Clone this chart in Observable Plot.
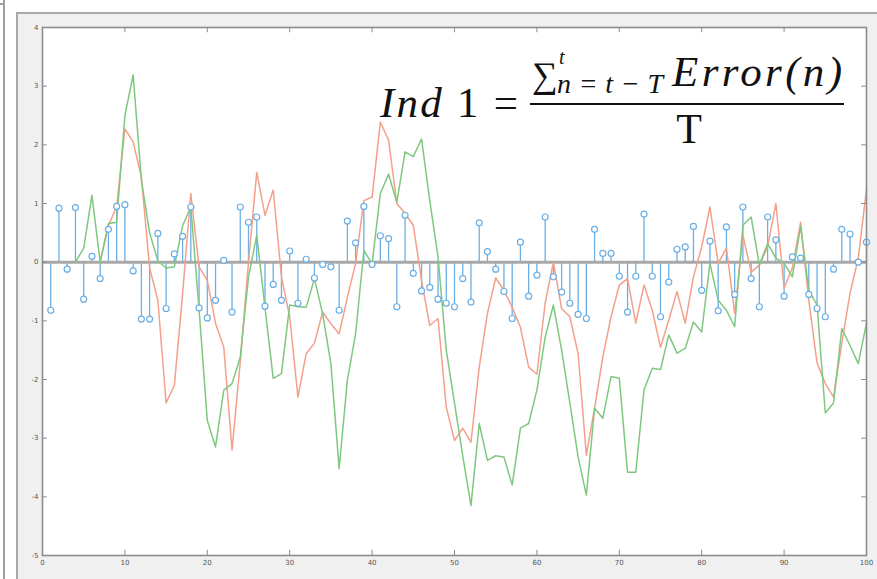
<!DOCTYPE html>
<html>
<head>
<meta charset="utf-8">
<script src="https://cdn.jsdelivr.net/npm/d3@7"></script>
<script src="https://cdn.jsdelivr.net/npm/@observablehq/plot@0.6"></script>
<style>
  html, body { margin: 0; padding: 0; background: #ffffff; }
  #wrap { position: relative; width: 877px; height: 579px; overflow: hidden; }
  #fig { position: absolute; left: 16px; top: 12px; width: 861px; height: 567px; background: #f0f0f0; border-left: 2px solid #a9a9a9; border-top: 2px solid #a9a9a9; box-sizing: border-box; }
  #edge { position: absolute; left: 3px; top: 4px; width: 2px; height: 575px; background: #a0a0a0; }
  #corner { position: absolute; left: 0px; top: 0px; width: 5px; height: 5px; border-right: 2px solid #a0a0a0; border-bottom: 2px solid #a0a0a0; box-sizing: border-box; }
  #chart { position: absolute; left: 0; top: 0; }
</style>
</head>
<body>
<div id="wrap">
  <div id="edge"></div>
  <div id="corner"></div>
  <div id="fig"></div>
  <div id="chart"></div>
</div>
<script>
// ---- data ----
const xTicks = [0, 10, 20, 30, 40, 50, 60, 70, 80, 90, 100];
const yTicks = [-5, -4, -3, -2, -1, 0, 1, 2, 3, 4];

// error stems, t = 1..100
const errorValues = [
  -0.82, 0.92, -0.12, 0.93, -0.63, 0.10, -0.28, 0.56, 0.95, 0.98,
  -0.15, -0.97, -0.97, 0.49, -0.79, 0.14, 0.44, 0.94, -0.78, -0.95,
  -0.65, 0.03, -0.85, 0.94, 0.68, 0.77, -0.75, -0.38, -0.65, 0.19,
  -0.70, 0.05, -0.27, -0.04, -0.08, -0.82, 0.70, 0.33, 0.95, -0.04,
  0.45, 0.40, -0.76, 0.80, -0.19, -0.49, -0.43, -0.63, -0.70, -0.76,
  -0.28, -0.68, 0.67, 0.18, -0.12, -0.50, -0.96, 0.34, -0.58, -0.22,
  0.77, -0.25, -0.51, -0.70, -0.89, -0.96, 0.56, 0.15, 0.15, -0.24,
  -0.85, -0.24, 0.82, -0.24, -0.93, -0.34, 0.22, 0.26, 0.61, -0.48,
  0.36, -0.83, 0.60, -0.55, 0.94, -0.28, -0.76, 0.77, 0.38, -0.58,
  0.09, 0.07, -0.55, -0.79, -0.93, -0.12, 0.56, 0.48, 0.00, 0.34
];

// red indicator line, t = 1..100 (null = not drawn)
const redValues = [
  null, null, null, null, null, null, 0.00, 0.62, 0.95, 2.27,
  2.05, 1.45, -0.10, -0.65, -2.40, -2.10, -0.55, 1.17, -0.08, -0.31,
  -1.04, -1.45, -3.20, -1.70, 0.00, 1.53, 0.80, 1.23, -0.25, -0.93,
  -2.30, -1.56, -1.38, -0.85, -1.05, -1.22, -0.60, -0.02, 1.05, 1.11,
  2.39, 2.08, 1.00, 0.83, 0.63, -0.31, -1.08, -0.96, -2.47, -3.04,
  -2.83, -3.07, -1.79, -0.87, -0.27, -0.48, -0.77, -1.11, -1.79, -1.91,
  -0.70, 0.00, -0.79, -0.93, -1.56, -3.29, -2.49, -1.62, -0.93, -0.39,
  -0.28, -1.04, -0.39, -0.82, -1.45, -0.99, -0.50, -1.04, -0.25, 0.26,
  0.94, -0.02, 0.24, -0.87, 0.46, -0.17, -0.05, 0.26, 1.00, -0.44,
  -0.10, 0.68, -0.65, -1.72, -2.07, -2.30, -1.38, -0.53, 0.07, 1.24
];

// green indicator line, t = 1..100
const greenValues = [
  null, null, null, 0.00, 0.24, 1.14, 0.00, 0.66, 0.68, 2.50,
  3.19, 1.40, 0.50, 0.02, -0.10, -0.08, 0.62, 0.94, -0.80, -2.70,
  -3.15, -2.18, -2.07, -1.62, -0.25, 0.46, -0.77, -1.98, -1.90, -0.73,
  -0.76, -0.77, -0.28, -0.88, -1.73, -3.52, -2.01, -1.22, 0.20, -0.03,
  1.17, 1.50, 1.02, 1.88, 1.80, 2.10, 1.05, 0.09, -1.50, -2.40,
  -3.30, -4.15, -2.75, -3.38, -3.30, -3.32, -3.80, -2.83, -2.75, -2.18,
  -1.28, -0.73, -1.50, -2.40, -3.32, -3.97, -2.49, -2.66, -1.95, -1.98,
  -3.58, -3.58, -2.18, -1.81, -1.83, -1.24, -1.55, -1.47, -1.02, -1.19,
  -0.02, -0.65, -0.82, -1.10, 0.63, 0.77, -0.05, 0.32, 0.07, -0.02,
  -0.25, 0.61, -0.48, -0.73, -2.57, -2.40, -1.13, -1.42, -1.73, -1.04
];

const rows = errorValues.map((e, i) => ({
  t: i + 1,
  e,
  red: redValues[i] == null ? NaN : redValues[i],
  green: greenValues[i] == null ? NaN : greenValues[i]
}));

const blue = "#6aafe6";
const red = "#f5a08a";
const green = "#7fc87f";
const axisGray = "#8c8c8c";

const W = 877, H = 579;

const plot = Plot.plot({
  width: W,
  height: H,
  marginLeft: 42,
  marginRight: 11,
  marginTop: 27,
  marginBottom: 24,
  style: { background: "transparent", fontFamily: "DejaVu Sans, sans-serif", fontSize: "7px", color: "#555" },
  x: { domain: [0, 100], ticks: xTicks, label: null },
  y: { domain: [-5, 4], ticks: yTicks, label: null },
  marks: [
    Plot.frame({ fill: "white", stroke: "none" }),
    // stems
    Plot.ruleX(rows, { x: "t", y1: 0, y2: "e", stroke: blue, strokeWidth: 1.3 }),
    // baseline
    Plot.ruleY([0], { stroke: "#a8a8a8", strokeWidth: 3 }),
    // lines
    Plot.line(rows, { x: "t", y: "red", stroke: red, strokeWidth: 1.5 }),
    Plot.line(rows, { x: "t", y: "green", stroke: green, strokeWidth: 1.5 }),
    // stem markers
    Plot.dot(rows, { x: "t", y: "e", r: 3, stroke: blue, fill: "white", strokeWidth: 1.2 }),
    // inward ticks (box style)
    Plot.ruleY(yTicks, { x1: 0, x2: 0.6, stroke: axisGray }),
    Plot.ruleY(yTicks, { x1: 99.4, x2: 100, stroke: axisGray }),
    Plot.ruleX(xTicks, { y1: -5, y2: -4.91, stroke: axisGray }),
    Plot.ruleX(xTicks, { y1: 4, y2: 3.91, stroke: axisGray }),
    Plot.axisX({ ticks: xTicks, tickSize: 0, tickPadding: 5, tickFormat: d => String(d), fill: "#555", label: null }),
    Plot.axisY({ ticks: yTicks, tickSize: 0, tickPadding: 4, tickFormat: d => String(d), fill: "#555", label: null }),
    Plot.frame({ stroke: axisGray, strokeWidth: 1.6 })
  ]
});

document.getElementById("chart").appendChild(plot);

// formula annotation
const svg = d3.select(plot);
const g = svg.append("g")
  .attr("font-family", "'Liberation Serif', 'DejaVu Serif', serif")
  .attr("fill", "#111")
  .attr("text-anchor", "start");
const ind = g.append("text").attr("x", 380).attr("y", 117).attr("font-size", 43)
  .attr("textLength", 138).attr("lengthAdjust", "spacing");
ind.append("tspan").attr("font-style", "italic").text("Ind");
ind.append("tspan").text(" 1 =");
g.append("text").attr("x", 532).attr("y", 87).attr("font-size", 36).text("∑");
g.append("text").attr("x", 559).attr("y", 64).attr("font-size", 20).attr("font-style", "italic").text("t");
g.append("text").attr("x", 557).attr("y", 93).attr("font-size", 28).attr("font-style", "italic")
  .attr("textLength", 106).attr("lengthAdjust", "spacing").text("n=t−T");
g.append("text").attr("x", 672).attr("y", 86).attr("font-size", 43).attr("font-style", "italic")
  .attr("textLength", 170).attr("lengthAdjust", "spacing").text("Error(n)");
g.append("line").attr("x1", 530).attr("x2", 844).attr("y1", 104).attr("y2", 104)
  .attr("stroke", "#111").attr("stroke-width", 2);
g.append("text").attr("x", 689).attr("y", 143).attr("font-size", 42).attr("text-anchor", "middle").text("T");
</script>
</body>
</html>
